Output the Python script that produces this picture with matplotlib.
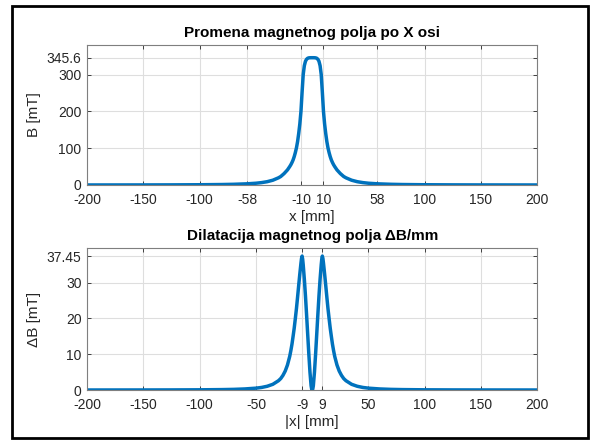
import numpy as np
import matplotlib
matplotlib.use('Agg')
import matplotlib.pyplot as plt
from matplotlib.patches import Rectangle

plt.rcParams['font.family'] = ['Liberation Sans', 'DejaVu Sans']

# field along x axis, read for |x| (curve is symmetric)
x_half = [0, 1, 2, 3, 4, 5, 6, 7, 8, 9, 10, 11, 12, 13, 14, 15, 16, 17, 18, 19,
          20, 22, 25, 28, 30, 35, 40, 45, 50, 58, 70, 80, 100, 125, 150, 175, 200]
b_half = [345.6, 345.6, 345.5, 345.2, 344.2, 341.5, 336, 324, 300, 252, 200,
          166, 140, 118, 101, 88, 77, 68, 61, 55, 50, 41, 31, 23, 19.5, 13, 9,
          6.5, 4.8, 3.2, 1.9, 1.3, 0.7, 0.38, 0.22, 0.14, 0.09]

# gradient magnitude, read for |x|
dx_half = [0, 0.5, 1, 2, 3, 4, 5, 6, 7, 8, 8.5, 9, 9.5, 10, 11, 12, 13, 14, 15,
           16, 17, 18, 19, 20, 22, 24, 26, 28, 30, 35, 40, 45, 50, 60, 70, 80,
           100, 125, 150, 175, 200]
db_half = [0, 0.3, 1.2, 5, 10, 15.5, 21, 26.3, 31, 35, 36.6, 37.45, 36.8,
           35.5, 32.5, 29.3, 26, 22.8, 20, 17.3, 15, 12.8, 11, 9.4, 7, 5.3, 4.1,
           3.2, 2.6, 1.6, 1.05, 0.72, 0.52, 0.3, 0.18, 0.12, 0.06, 0.03, 0.018,
           0.012, 0.008]

top_xticks = [-200, -150, -100, -58, -10, 10, 58, 100, 150, 200]
top_yticks = [0, 100, 200, 300, 345.6]
bot_xticks = [-200, -150, -100, -50, -9, 9, 50, 100, 150, 200]
bot_yticks = [0, 10, 20, 30, 37.45]


def mirror(xs, ys):
    xs = np.asarray(xs, float)
    ys = np.asarray(ys, float)
    return (np.concatenate([-xs[::-1], xs[1:]]),
            np.concatenate([ys[::-1], ys[1:]]))


x_b, b = mirror(x_half, b_half)
x_d, db = mirror(dx_half, db_half)

blue = '#0072BD'
axcol = '#262626'

fig = plt.figure(figsize=(5.93, 4.41), dpi=100)
fig.patches.append(Rectangle((0.021, 0.006), 0.970, 0.980, transform=fig.transFigure,
                             fill=False, edgecolor='black', linewidth=2))


def style(ax, xticks, yticks, ylim, yfmt):
    ax.set_xlim(-200, 200)
    ax.set_ylim(*ylim)
    ax.set_xticks(xticks)
    ax.set_xticklabels([str(t) for t in xticks])
    ax.set_yticks(yticks)
    ax.set_yticklabels([yfmt(t) for t in yticks])
    ax.grid(True, color='#dedede', linewidth=0.8)
    ax.set_axisbelow(True)
    ax.tick_params(direction='in', length=3, width=0.6, colors=axcol,
                   labelsize=10, top=True, right=True)
    ax.tick_params(axis='x', pad=6)
    ax.tick_params(axis='y', pad=4)
    for s in ax.spines.values():
        s.set_color('#7f7f7f')
        s.set_linewidth(0.8)


ax1 = fig.add_axes([0.147, 0.5805, 0.759, 0.3175])
ax1.plot(x_b, b, color=blue, linewidth=2.5, solid_joinstyle='round')
style(ax1, top_xticks, top_yticks, (0, 380.16),
      lambda t: '345.6' if t == 345.6 else str(int(t)))
ax1.set_title('Promena magnetnog polja po X osi', fontsize=11, fontweight='bold', pad=6)
ax1.set_xlabel('x [mm]', fontsize=11, color=axcol, labelpad=2)
ax1.set_ylabel('B [mT]', fontsize=11, color=axcol, labelpad=4)

ax2 = fig.add_axes([0.147, 0.1156, 0.759, 0.322])
ax2.plot(x_d, db, color=blue, linewidth=2.5, solid_joinstyle='round')
style(ax2, bot_xticks, bot_yticks, (0, 39.7),
      lambda t: '37.45' if t == 37.45 else str(int(t)))
ax2.set_title('Dilatacija magnetnog polja ΔB/mm', fontsize=11, fontweight='bold', pad=6)
ax2.set_xlabel('|x| [mm]', fontsize=11, color=axcol, labelpad=2)
ax2.set_ylabel('ΔB [mT]', fontsize=11, color=axcol, labelpad=4)

fig.savefig('out.png', dpi=100)
